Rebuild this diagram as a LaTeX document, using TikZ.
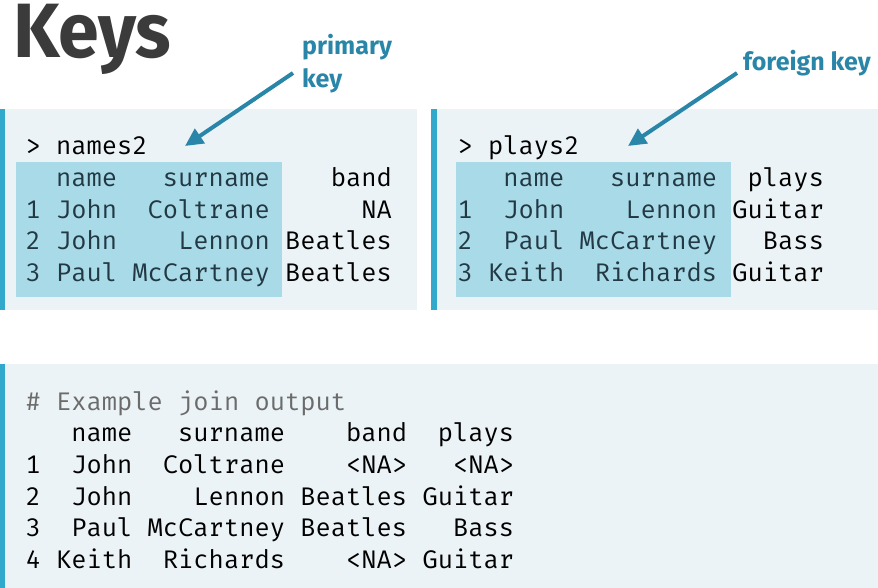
\documentclass[tikz,border=0pt]{standalone}
\usepackage{fontspec}
\usetikzlibrary{arrows.meta}
\newfontfamily\codefont{Fira Mono}
\newfontfamily\headfont{Fira Sans}
\definecolor{panelbg}{HTML}{EBF3F6}
\definecolor{barblue}{HTML}{31A9CD}
\definecolor{hilite}{HTML}{A8DAE8}
\definecolor{keyblue}{HTML}{2986A8}
\definecolor{titlegray}{HTML}{3B3B3B}
\definecolor{hltext}{HTML}{223843}
\definecolor{commentgray}{HTML}{6B6B6B}
\tikzset{
  codeA/.style={font=\codefont\fontsize{25.45pt}{30pt}\selectfont, anchor=base west, inner sep=0pt, outer sep=0pt, text=black},
  hl/.style={text=hltext},
  keylabel/.style={font=\headfont\bfseries\fontsize{25pt}{33pt}\selectfont, anchor=base west, inner sep=0pt, text=keyblue, align=left},
  keyarrow/.style={draw=keyblue, line width=4pt, -{Triangle[length=18pt,width=17pt]}},
}
\begin{document}
\begin{tikzpicture}[x=1pt,y=-1pt]
\useasboundingbox (0,0) rectangle (878,588);
% panels
\fill[panelbg] (0,109) rectangle (417,310);
\fill[barblue] (0,109) rectangle (5,310);
\fill[panelbg] (431,109) rectangle (878,310);
\fill[barblue] (431,109) rectangle (437,310);
\fill[panelbg] (0,364) rectangle (878,588);
\fill[barblue] (0,364) rectangle (5,588);
% highlights
\fill[hilite] (16,162) rectangle (282,297);
\fill[hilite] (456,162) rectangle (731,297);
% title
\node[font=\headfont\bfseries\fontsize{77pt}{80pt}\selectfont, text=titlegray, anchor=base west, inner sep=0pt] (title) at (13,57.5) {\scalebox{0.955}[1]{Keys}};
% labels
\node[keylabel] (pk1) at (302,55) {primary};
\node[keylabel] (pk2) at (302,88) {key};
\node[keylabel] (fk) at (743,71) {foreign key};
\coordinate (pkstart) at (293,73);
\coordinate (pktip) at (185,146);
\coordinate (fkstart) at (737,73);
\coordinate (fktip) at (628,146);
\draw[keyarrow] (pkstart) -- (pktip);
\draw[keyarrow] (fkstart) -- (fktip);
% panel 1: names2
\node[codeA] (n0) at (25.5,155) {>~names2};
\node[codeA,hl] (n1) at (25.5,187) {~~name~~~surname};
\node[codeA,hl] (n2) at (25.5,218.5) {1~John~~Coltrane};
\node[codeA,hl] (n3) at (25.5,250) {2~John~~~~Lennon};
\node[codeA,hl] (n4) at (25.5,281.7) {3~Paul~McCartney};
\node[codeA] (b1) at (285.1,187) {~~~band};
\node[codeA] (b2) at (285.1,218.5) {~~~~~NA};
\node[codeA] (b3) at (285.1,250) {Beatles};
\node[codeA] (b4) at (285.1,281.7) {Beatles};
% panel 2: plays2
\node[codeA] (p0) at (457.5,155) {>~plays2};
\node[codeA,hl] (p1) at (457.5,187) {~~~name~~~surname};
\node[codeA,hl] (p2) at (457.5,218.5) {1~~John~~~~Lennon};
\node[codeA,hl] (p3) at (457.5,250) {2~~Paul~McCartney};
\node[codeA,hl] (p4) at (457.5,281.7) {3~Keith~~Richards};
\node[codeA] (q1) at (732.4,187) {~plays};
\node[codeA] (q2) at (732.4,218.5) {Guitar};
\node[codeA] (q3) at (732.4,250) {~~Bass};
\node[codeA] (q4) at (732.4,281.7) {Guitar};
% panel 3: join output
\node[codeA,text=commentgray] (j0) at (25.5,410) {\#~Example~join~output};
\node[codeA] (j1) at (25.5,441.7) {~~~name~~~surname~~~~band~~plays};
\node[codeA] (j2) at (25.5,473.3) {1~~John~~Coltrane~~~~<NA>~~~<NA>};
\node[codeA] (j3) at (25.5,505) {2~~John~~~~Lennon~Beatles~Guitar};
\node[codeA] (j4) at (25.5,536.7) {3~~Paul~McCartney~Beatles~~~Bass};
\node[codeA] (j5) at (25.5,568.3) {4~Keith~~Richards~~~~<NA>~Guitar};
\end{tikzpicture}
\end{document}
